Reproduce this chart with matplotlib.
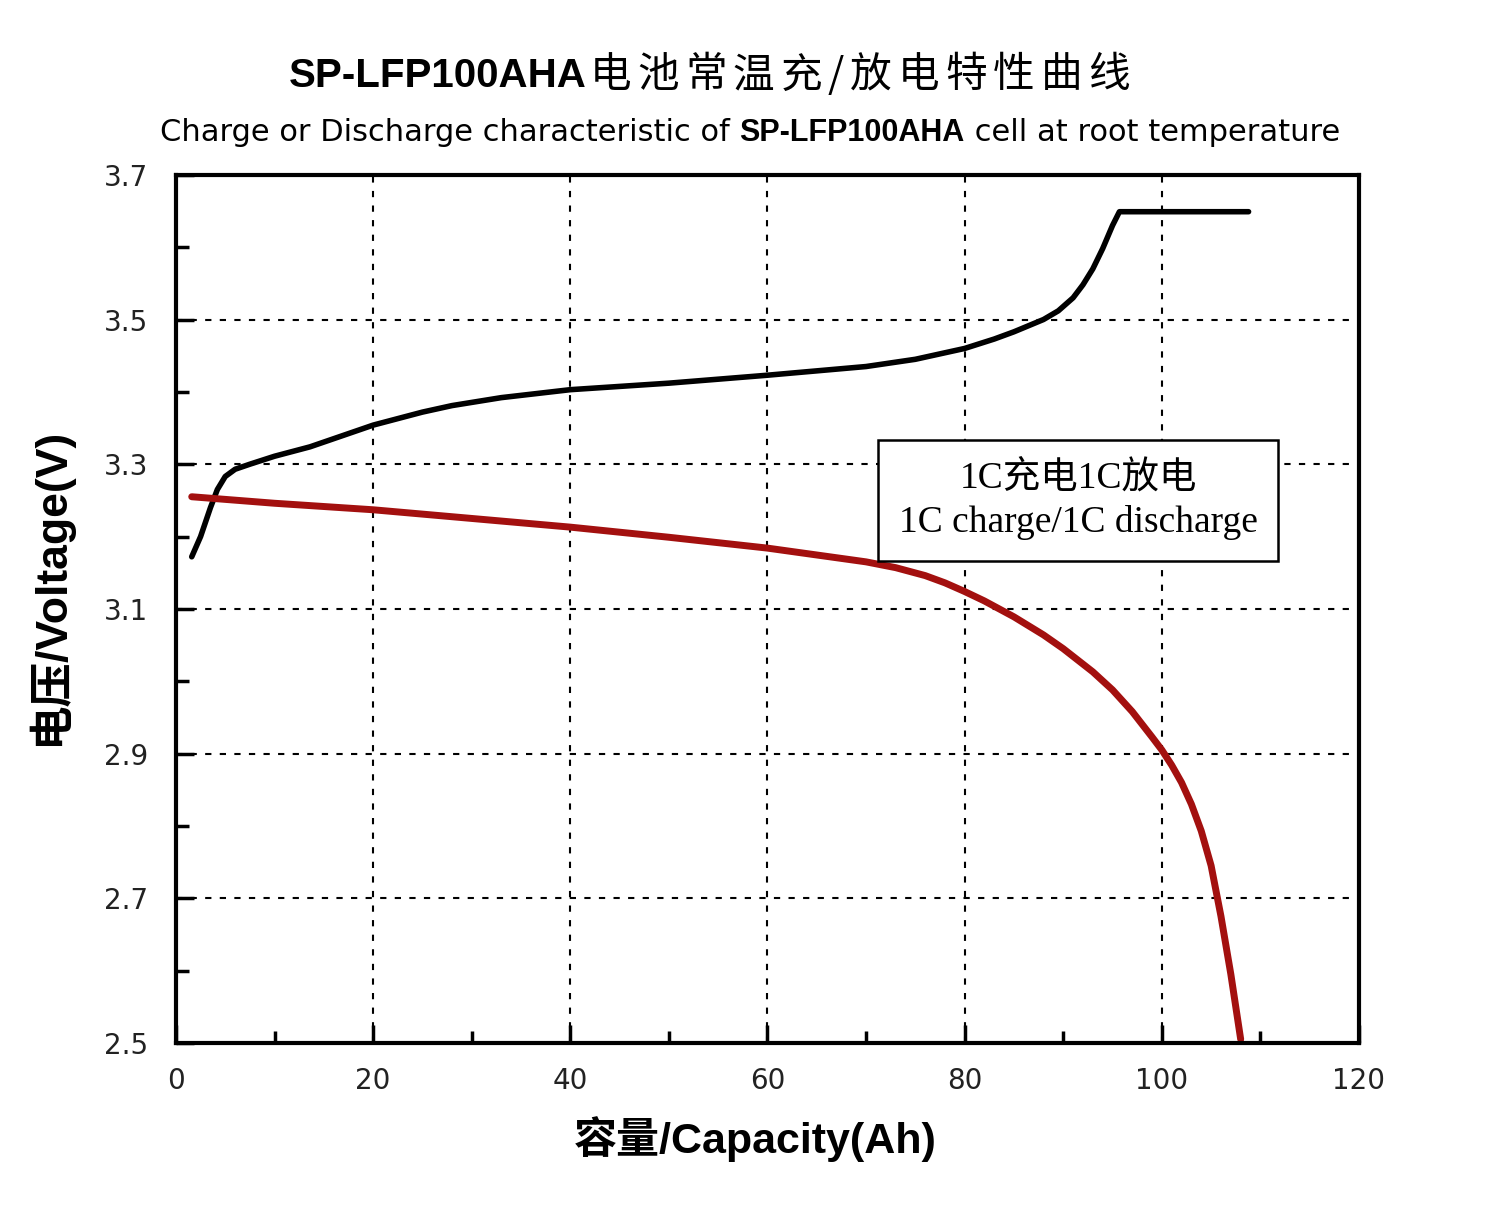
import matplotlib
matplotlib.use('Agg')
import matplotlib.pyplot as plt
import numpy as np

plt.rcParams['font.family'] = ['Liberation Sans', 'Noto Sans CJK SC', 'DejaVu Sans']

# charge curve (Ah, V)
charge_cap = [1.6, 2.5, 3.5, 4.2, 5, 6, 7.5, 10, 13.6, 20, 25, 28, 33, 40, 50, 60, 70,
              75, 80, 83, 85, 88, 89.5, 91, 92, 93, 94, 95, 95.7, 100, 105, 108.8]
charge_v = [3.172, 3.20, 3.24, 3.265, 3.283, 3.293, 3.300, 3.311, 3.324, 3.354, 3.372, 3.381,
            3.392, 3.403, 3.412, 3.423, 3.435, 3.445, 3.460, 3.473, 3.483, 3.50, 3.512, 3.53,
            3.548, 3.57, 3.598, 3.63, 3.649, 3.649, 3.649, 3.649]

# discharge curve (Ah, V)
dis_cap = [1.6, 10, 20, 30, 40, 50, 60, 70, 73, 76, 78, 80, 82, 85, 88, 90, 93, 95, 97, 99,
           100, 101, 102, 103, 104, 105, 106, 107, 108]
dis_v = [3.255, 3.246, 3.237, 3.225, 3.213, 3.199, 3.184, 3.165, 3.157, 3.146, 3.136, 3.124,
         3.111, 3.089, 3.064, 3.045, 3.013, 2.988, 2.958, 2.923, 2.905, 2.884, 2.860, 2.830,
         2.793, 2.745, 2.675, 2.595, 2.505]

x_ticks = [0, 20, 40, 60, 80, 100, 120]
y_ticks = [2.5, 2.7, 2.9, 3.1, 3.3, 3.5, 3.7]

fig = plt.figure(figsize=(15, 12.14), dpi=100)
ax = fig.add_axes([0.1173, 0.1409, 0.7887, 0.7151])

ax.plot(charge_cap, charge_v, color='black', lw=4, solid_capstyle='round', solid_joinstyle='round')
ax.plot(dis_cap, dis_v, color='#a3100f', lw=5, solid_capstyle='round', solid_joinstyle='round')

ax.set_xlim(0, 120)
ax.set_ylim(2.5, 3.7)
ax.set_xticks(x_ticks)
ax.set_yticks(y_ticks)
ax.set_xticks(np.arange(10, 120, 20), minor=True)
ax.set_yticks(np.arange(2.6, 3.7, 0.2), minor=True)
ax.set_yticklabels([f'{v:.1f}' for v in y_ticks])
ax.tick_params(which='major', direction='in', length=13, width=2.5, labelsize=20)
ax.tick_params(which='minor', direction='in', length=9, width=2.5)
ax.tick_params(axis='x', pad=17)
ax.tick_params(axis='y', pad=20)
for lab in ax.get_xticklabels() + ax.get_yticklabels():
    lab.set_family('DejaVu Sans')
    lab.set_color('#222222')
for s in ax.spines.values():
    s.set_linewidth(3)

ax.grid(True, which='major', color='black', linestyle=(0, (3, 4)), lw=1.5)

ax.set_xlabel('容量/Capacity(Ah)', fontsize=31, fontweight='bold',
              family=['Liberation Sans', 'Noto Sans CJK SC'])
ax.set_ylabel('电压/Voltage(V)', fontsize=32, fontweight='bold',
              family=['Liberation Sans', 'Noto Sans CJK SC'])
ax.xaxis.set_label_coords(0.49, -0.084)
ax.yaxis.set_label_coords(-0.088, 0.525)

# annotation box
ax.text(91.5, 3.25, '1C充电1C放电\n1C charge/1C discharge', fontsize=27,
        ha='center', va='center', linespacing=1.35,
        family=['Liberation Serif', 'Noto Sans CJK SC'],
        bbox=dict(boxstyle='square,pad=0.55', fc='white', ec='black', lw=1.8))


def place_pieces(pieces, y, xcenter):
    # draw text pieces left to right, centred on xcenter (figure coords)
    # each piece: (text, kwargs, gap in px after it)
    fig.canvas.draw()
    r = fig.canvas.get_renderer()
    texts = []
    for txt, kw, gap in pieces:
        t = fig.text(0, y, txt, va='baseline', **kw)
        texts.append((t, gap / fig.bbox.width))
    widths = [t.get_window_extent(r).width / fig.bbox.width + g for t, g in texts]
    x = xcenter - sum(widths) / 2
    for (t, g), w in zip(texts, widths):
        t.set_x(x)
        x += w


title_cjk = '电池常温充/放电特性曲线'
pieces = [('SP-LFP100AHA', dict(fontsize=29, fontweight='bold'), 3)]
for ch in title_cjk:
    pieces.append((ch, dict(fontsize=30, family=['Noto Sans CJK SC']), 6))
place_pieces(pieces, 0.928, 0.475)

sub_kw = dict(fontsize=22, family=['DejaVu Sans'])
place_pieces([('Charge or Discharge characteristic of ', sub_kw, 0),
              ('SP-LFP100AHA', dict(fontsize=22, fontweight='bold'), 0),
              (' cell at root temperature', sub_kw, 0)],
             0.884, 0.5)

fig.savefig('out.png', dpi=100, facecolor='white')
